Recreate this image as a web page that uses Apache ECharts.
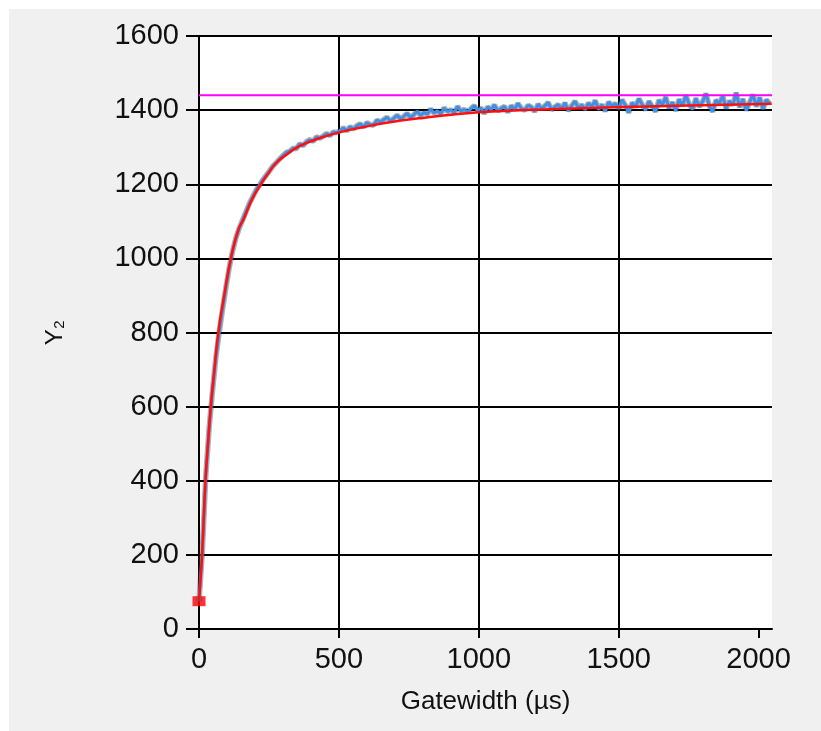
<!DOCTYPE html>
<html>
<head>
<meta charset="utf-8">
<script src="https://cdn.jsdelivr.net/npm/echarts@6/dist/echarts.min.js"></script>
<style>
  html, body { margin: 0; padding: 0; background: #fff; }
  #chart { position: absolute; left: 9px; top: 9px; width: 812px; height: 722px; }
</style>
</head>
<body>
<div id="chart"></div>
<script>
// Ticks
const xTicks = [0, 500, 1000, 1500, 2000];

// Measured Y2 data, one point every 12 µs from 0
const blueStep = 12;
const blueY = [
  75, 210, 410, 540, 640, 730, 800, 862, 920, 975,
  1020, 1055, 1082, 1104, 1126, 1148, 1166, 1184, 1197, 1212,
  1224, 1236, 1249, 1258, 1268,
  1277, 1286, 1289, 1297, 1296, 1309, 1304, 1315, 1320, 1316,
  1328, 1324, 1330, 1337, 1331, 1341, 1339, 1345, 1352, 1344,
  1355, 1349, 1358, 1363, 1354, 1366, 1361, 1359, 1373, 1368,
  1374, 1381, 1370, 1378, 1386, 1377, 1383, 1391, 1380, 1388,
  1397, 1385, 1394, 1389, 1403, 1392, 1398, 1390, 1406, 1396,
  1401, 1393, 1410, 1397, 1402, 1395, 1404, 1412, 1398, 1406,
  1391, 1409, 1401, 1414, 1397, 1405, 1410, 1394, 1412, 1402,
  1418, 1405, 1399, 1413, 1408, 1396, 1416, 1404, 1411, 1421,
  1400, 1409, 1415, 1403, 1420, 1398, 1412, 1424, 1406, 1414,
  1401, 1419, 1409, 1426, 1402, 1415, 1397, 1422, 1411, 1418,
  1404, 1428, 1413, 1393, 1420, 1408, 1431, 1415, 1400, 1424,
  1410, 1396, 1427, 1414, 1435, 1405, 1421, 1398, 1429, 1412,
  1440, 1416, 1402, 1432, 1409, 1423, 1445, 1411, 1396, 1427,
  1418, 1438, 1404, 1425, 1413, 1447, 1408, 1430, 1399, 1421,
  1442, 1410, 1434, 1403, 1428, 1417
];

// Fitted curve (red)
const fitX = [0, 5, 11, 17, 23, 32, 42, 55, 69, 90, 114, 141, 159, 190, 221, 250, 278, 320, 362, 430, 502, 580, 670, 800, 1000, 1200, 1366, 1600, 1800, 2047];
const fitY = [75, 130, 200, 300, 400, 500, 600, 700, 800, 900, 1000, 1078, 1105, 1160, 1200, 1232, 1259, 1284, 1304, 1324, 1340, 1353, 1366, 1379, 1394, 1401, 1405, 1410, 1413, 1417];

// Asymptote (magenta) and start marker (red square)
const asymptote = 1440;
const startPoint = [0, 75];
const xMax = 2048;

const blueData = blueY.map((v, i) => [i * blueStep, v]);
const fitData = fitX.map((x, i) => [x, fitY[i]]);

const chart = echarts.init(document.getElementById('chart'));

const option = {
  backgroundColor: '#f0f0f0',
  animation: false,
  textStyle: { fontFamily: 'Liberation Sans, Arial, sans-serif' },
  grid: {
    left: 190, top: 27, right: 49, bottom: 102,
    show: true, backgroundColor: '#ffffff', borderWidth: 0
  },
  xAxis: {
    type: 'value',
    min: 0, max: xMax, interval: 500,
    name: 'Gatewidth (µs)',
    nameLocation: 'middle',
    nameGap: 60,
    nameTextStyle: { fontSize: 26, color: '#111' },
    axisLine: { show: true, lineStyle: { color: '#000', width: 2 } },
    axisTick: { show: true, length: 9, lineStyle: { color: '#000', width: 2 }, customValues: xTicks },
    axisLabel: { fontSize: 29, color: '#111', margin: 16, customValues: xTicks, formatter: v => String(v) },
    splitLine: { show: true, showMaxLine: false, lineStyle: { color: '#000', width: 2 } }
  },
  yAxis: {
    type: 'value',
    min: 0, max: 1600, interval: 200,
    name: 'Y₂',
    nameLocation: 'middle',
    nameGap: 132,
    nameTextStyle: { fontSize: 24, color: '#111' },
    axisLine: { show: true, lineStyle: { color: '#000', width: 2 } },
    axisTick: { show: true, length: 13, lineStyle: { color: '#000', width: 2 } },
    axisLabel: { fontSize: 29, color: '#111', margin: 20, formatter: v => String(v) },
    splitLine: { show: true, lineStyle: { color: '#000', width: 2 } }
  },
  series: [
    {
      // dark halo under the measured data
      type: 'line', data: blueData, symbol: 'none', silent: true,
      lineStyle: { color: 'rgba(60,60,60,0.4)', width: 5.5 }
    },
    {
      type: 'line', data: blueData, symbol: 'none',
      lineStyle: { color: '#3f8fe8', width: 3 }
    },
    {
      type: 'line', data: fitData, symbol: 'none', smooth: true,
      lineStyle: { color: '#ff1010', width: 2.5 }
    },
    {
      type: 'line', data: [[0, asymptote], [xMax, asymptote]], symbol: 'none',
      lineStyle: { color: '#ff00ff', width: 2 }
    },
    {
      type: 'scatter', data: [startPoint], symbol: 'rect', symbolSize: [13, 10],
      itemStyle: { color: '#ff0000' }
    }
  ]
};

option && chart.setOption(option);
</script>
</body>
</html>
